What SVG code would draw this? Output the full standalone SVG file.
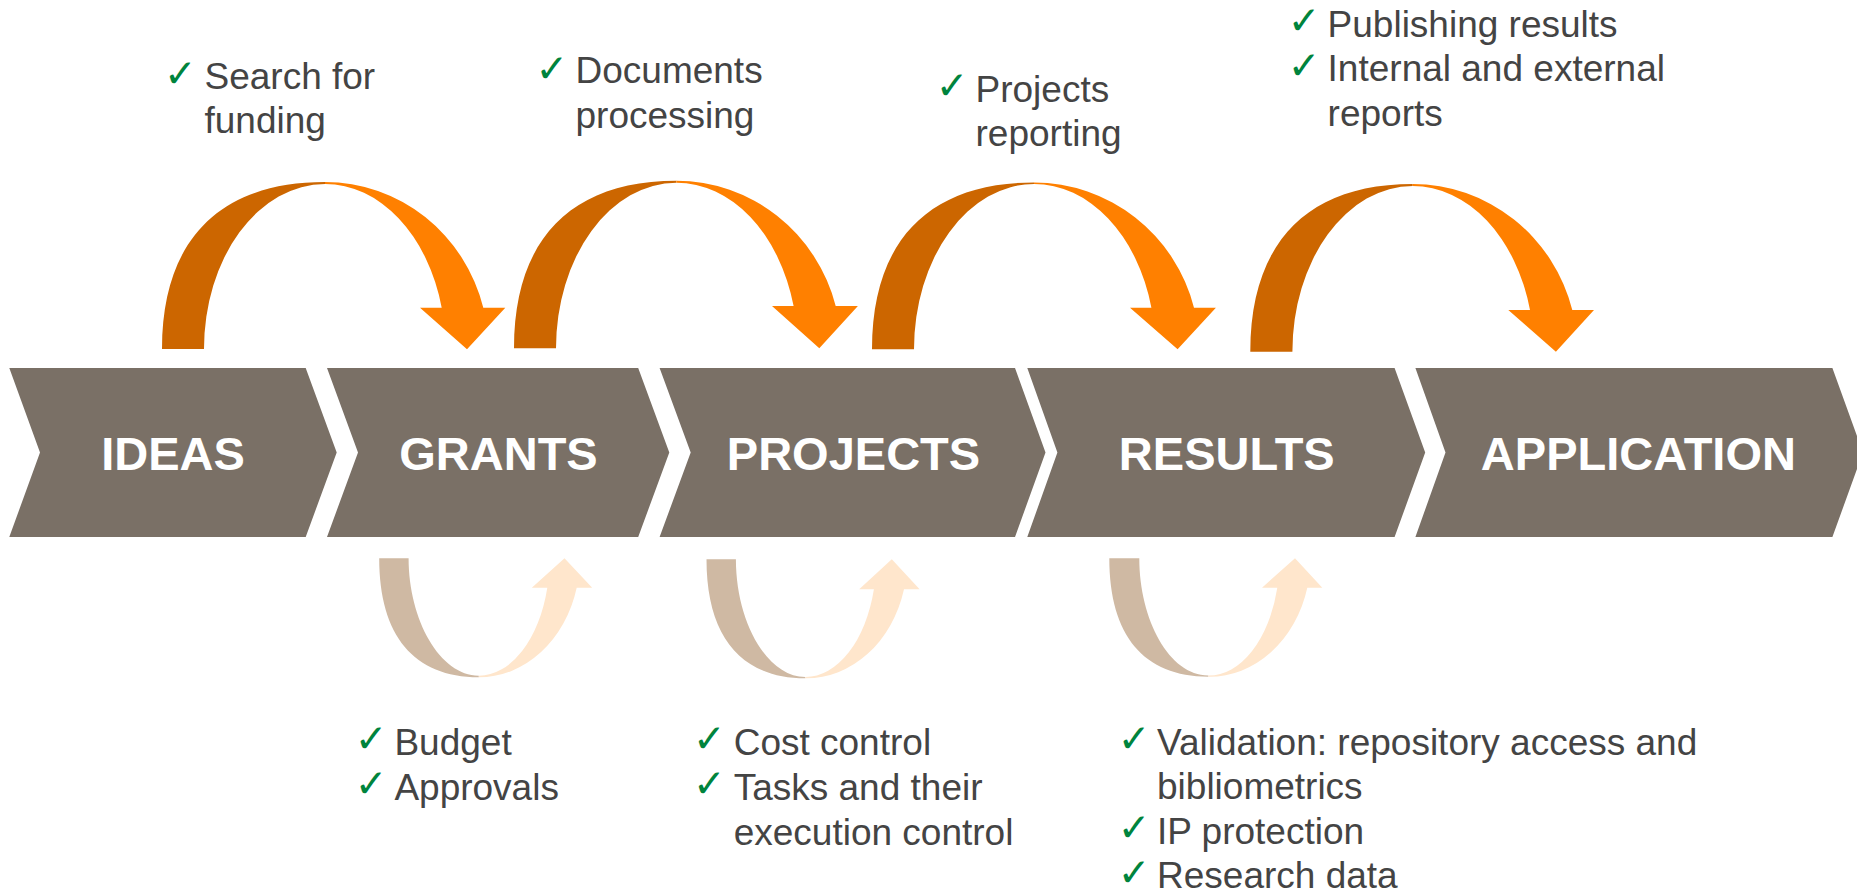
<svg xmlns="http://www.w3.org/2000/svg" width="1857" height="894" viewBox="0 0 1857 894">
<style>
.chev{fill:#7A7066}
.lbl{font-family:"Liberation Sans",Arial,sans-serif;font-weight:bold;font-size:47px;fill:#FFFFFF;text-anchor:middle}
.txt{font-family:"Liberation Sans",Arial,sans-serif;font-size:37px;fill:#444444}
.chk{font-family:"DejaVu Sans",sans-serif;font-size:39px;font-weight:bold;fill:#00843D}
.dk{fill:#CC6600}
.br{fill:#FF8000}
.tan{fill:#CFB9A3}
.pch{fill:#FFE6CC}
</style>
<rect width="1857" height="894" fill="#FFFFFF"/>
<g id="connectors">
  <path class="dk" d="M162,349 C162,240.5 219,182 325,182 L325,184 A121,165 0 0 0 204,349 Z"/>
  <path class="br" d="M325,182 A163.4,167 0 0 1 483.3,307.7 L505.3,307.7 L467,349.3 L420,307.7 L441.7,307.7 A120.5,165 0 0 0 325,184 Z"/>
  <path class="dk" d="M514,348.3 C514,239.4 570.9,180.7 676.4,180.7 L676.4,182.7 A120.4,165.6 0 0 0 556,348.3 Z"/>
  <path class="br" d="M676.4,180.7 A164.6,167.6 0 0 1 835.7,306 L857.9,306 L819.3,348.3 L772,306 L793.6,306 A121.2,165.6 0 0 0 676.4,182.7 Z"/>
  <path class="dk" d="M872,349.3 C872,240.9 928.7,182.5 1034,182.5 L1034,184 A120,165.3 0 0 0 914,349.3 Z"/>
  <path class="br" d="M1034,182.5 A165.3,166.8 0 0 1 1194,307.7 L1215.9,307.7 L1177.6,349.3 L1130,307.7 L1151.4,307.7 A121.3,165.3 0 0 0 1034,184 Z"/>
  <path class="dk" d="M1250.3,351.7 C1250.3,242.7 1307.2,184 1412.7,184 L1412.7,186 A120.3,165.7 0 0 0 1292.4,351.7 Z"/>
  <path class="br" d="M1412.7,184 A164.9,167.7 0 0 1 1572.3,310 L1594,310 L1555.9,351.7 L1508.3,310 L1530,310 A121.2,165.7 0 0 0 1412.7,186 Z"/>
  <path class="tan" d="M379.2,558.3 C379.2,635.7 414,677.3 478.8,677.3 L478.8,675.7 C440,675.7 408.6,620 408.6,558.3 Z"/>
  <path class="pch" d="M478.8,677.3 A101,119 0 0 0 576.7,587.7 L592.2,587.7 L564.5,558.3 L531.8,587.7 L547.3,587.7 A70.8,117.4 0 0 1 478.8,675.7 Z"/>
  <path class="tan" d="M706.5,559.3 C706.5,636.7 741.1,678.3 805.3,678.3 L805.3,677 C766.5,677 735.9,621 735.9,559.3 Z"/>
  <path class="pch" d="M805.3,678.3 A101,119 0 0 0 904,589.3 L919.6,589.3 L891.8,559.3 L859.2,589.3 L873.9,589.3 A70.8,117.7 0 0 1 805.3,677 Z"/>
  <path class="tan" d="M1109.3,558.3 C1109.3,635.7 1144,676.7 1208.3,676.7 L1208.3,675.5 C1169.5,675.5 1139.3,620 1139.3,558.3 Z"/>
  <path class="pch" d="M1208.3,676.7 A101,118.4 0 0 0 1307.3,587.7 L1322.3,587.7 L1295,558.3 L1262,587.7 L1277.3,587.7 A70.8,117.2 0 0 1 1208.3,675.5 Z"/>
</g>
<g id="ideas">
  <polygon class="chev" points="9.3,368 305.7,368 336.7,452.5 305.7,537 9.3,537 40,452.5"/>
  <text class="lbl" x="173" y="470">IDEAS</text>
</g>
<g id="grants">
  <polygon class="chev" points="327,368 638.2,368 669.3,452.5 638.2,537 327,537 358,452.5"/>
  <text class="lbl" x="498.5" y="470">GRANTS</text>
</g>
<g id="projects">
  <polygon class="chev" points="659.6,368 1015,368 1045.5,452.5 1015,537 659.6,537 690.7,452.5"/>
  <text class="lbl" x="853.5" y="470">PROJECTS</text>
</g>
<g id="results">
  <polygon class="chev" points="1027.3,368 1394.6,368 1425.2,452.5 1394.6,537 1027.3,537 1057.4,452.5"/>
  <text class="lbl" x="1226.8" y="470">RESULTS</text>
</g>
<g id="application">
  <polygon class="chev" points="1415.4,368 1832.4,368 1863,452.5 1832.4,537 1415.4,537 1445.5,452.5"/>
  <text class="lbl" x="1638.4" y="470">APPLICATION</text>
</g>
<g id="note-ideas">
  <text class="chk" x="164" y="86.5">✓</text>
  <text class="txt" x="204.5" y="89.3">Search for</text>
  <text class="txt" x="204.5" y="133.3">funding</text>
</g>
<g id="note-grants-top">
  <text class="chk" x="535.6" y="81.5">✓</text>
  <text class="txt" x="575.5" y="83.3">Documents</text>
  <text class="txt" x="575.5" y="127.7">processing</text>
</g>
<g id="note-projects-top">
  <text class="chk" x="935.8" y="98.5">✓</text>
  <text class="txt" x="975.5" y="101.7">Projects</text>
  <text class="txt" x="975.5" y="145.7">reporting</text>
</g>
<g id="note-results-top">
  <text class="chk" x="1287.8" y="33.5">✓</text>
  <text class="txt" x="1327.6" y="36.5">Publishing results</text>
  <text class="chk" x="1287.8" y="78.5">✓</text>
  <text class="txt" x="1327.6" y="81">Internal and external</text>
  <text class="txt" x="1327.6" y="125.5">reports</text>
</g>
<g id="note-grants-bottom">
  <text class="chk" x="354.7" y="752">✓</text>
  <text class="txt" x="394.4" y="755">Budget</text>
  <text class="chk" x="354.7" y="797">✓</text>
  <text class="txt" x="394.4" y="800">Approvals</text>
</g>
<g id="note-projects-bottom">
  <text class="chk" x="693" y="752">✓</text>
  <text class="txt" x="733.7" y="755">Cost control</text>
  <text class="chk" x="693" y="797">✓</text>
  <text class="txt" x="733.7" y="800">Tasks and their</text>
  <text class="txt" x="733.7" y="845">execution control</text>
</g>
<g id="note-results-bottom">
  <text class="chk" x="1117.7" y="752">✓</text>
  <text class="txt" x="1157" y="755">Validation: repository access and</text>
  <text class="txt" x="1157" y="799">bibliometrics</text>
  <text class="chk" x="1117.7" y="840.5">✓</text>
  <text class="txt" x="1157" y="843.5">IP protection</text>
  <text class="chk" x="1117.7" y="885.5">✓</text>
  <text class="txt" x="1157" y="888">Research data</text>
</g>
</svg>
